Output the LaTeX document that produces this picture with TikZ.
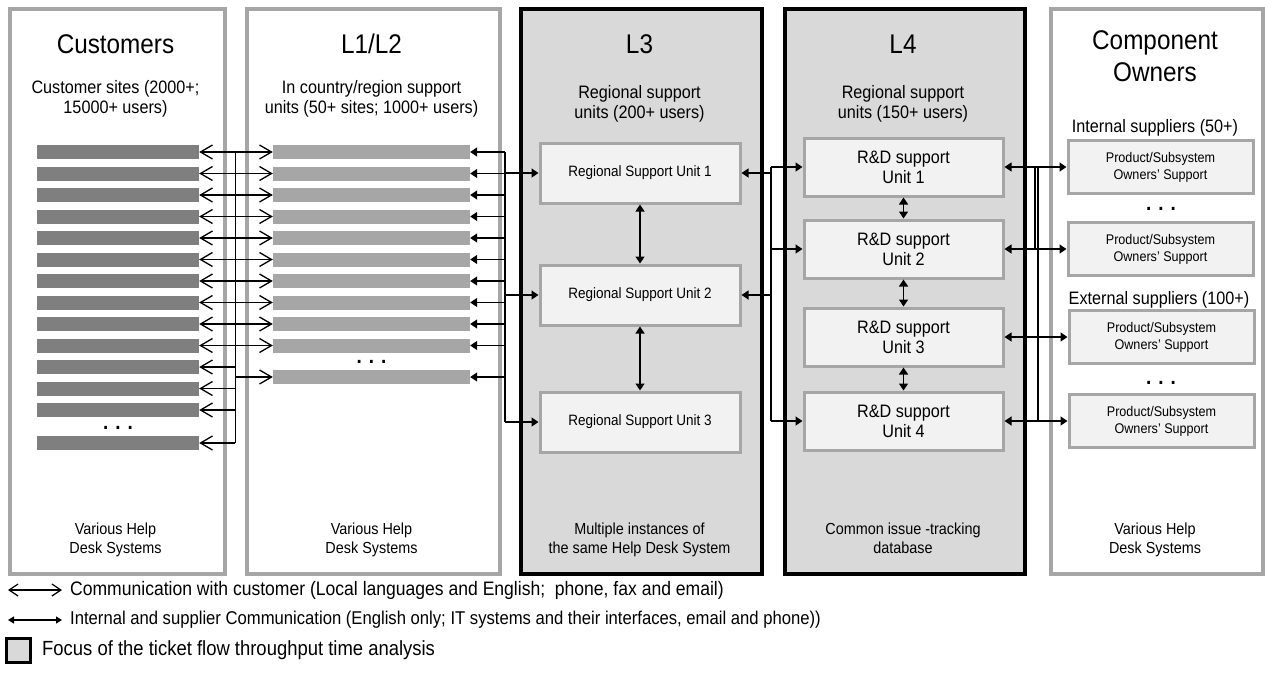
\documentclass[tikz,border=0pt]{standalone}
\usepackage{fontspec}
\setmainfont{Liberation Sans}[FakeStretch=0.9]
\usetikzlibrary{arrows.meta}
\definecolor{panelgray}{HTML}{A6A6A6}
\definecolor{focusfill}{HTML}{D9D9D9}
\definecolor{boxfill}{HTML}{F2F2F2}
\definecolor{custbarcol}{HTML}{7F7F7F}
\definecolor{lbarcol}{HTML}{A6A6A6}
\newcommand{\fs}[2]{\fontsize{#1}{#2}\selectfont}
\tikzset{
  panel/.style={draw=panelgray, line width=3.5pt, fill=white, minimum height=565, anchor=north west, inner sep=0},
  focus/.style={draw=black, line width=3.5pt, fill=focusfill, minimum height=565, anchor=north west, inner sep=0},
  title/.style={font=\fs{27}{32}, align=center},
  sub/.style={font=\fs{18}{20}, align=center},
  foot/.style={font=\fs{16}{19}, align=center},
  custbar/.style={fill=custbarcol, minimum width=162, minimum height=14, inner sep=0},
  lbar/.style={fill=lbarcol, minimum width=197, minimum height=14, inner sep=0},
  unitbox/.style={draw=panelgray, line width=3pt, fill=boxfill, inner sep=0, align=center},
  rsu/.style={unitbox, minimum width=200, minimum height=60, font=\fs{15}{18}},
  rdu/.style={unitbox, minimum width=199, minimum height=58, font=\fs{18}{20}},
  own/.style={unitbox, minimum width=185, minimum height=53, font=\fs{14}{17}},
  dots/.style={font=\fs{21}{21}\bfseries},
  bus/.style={draw=black, line width=1.2pt},
  custarrow/.style={-{Straight Barb[length=12pt,width=14pt]}, line width=1.3pt},
  intarrow/.style={-{Triangle[length=7pt,width=9pt]}, line width=1.3pt},
  intboth/.style={{Triangle[length=7pt,width=9pt]}-{Triangle[length=7pt,width=9pt]}, line width=1.3pt},
  legtext/.style={anchor=west, inner sep=0},
}
\begin{document}
\begin{tikzpicture}[x=1pt,y=-1pt]
\useasboundingbox (0,0) rectangle (1265,691);

% columns
\node[panel, minimum width=215] (pcust) at (8,7) {};
\node[panel, minimum width=253] (pl12) at (245,7) {};
\node[focus, minimum width=241] (pl3) at (519,7) {};
\node[focus, minimum width=240] (pl4) at (783,7) {};
\node[panel, minimum width=212] (pown) at (1049,7) {};

% column headings
\node[title] (tcust) at (115.5,44) {Customers};
\node[title] (tl12) at (371.5,44) {L1/L2};
\node[title] (tl3) at (639.5,44) {L3};
\node[title] (tl4) at (903,44) {L4};
\node[title] (town) at (1155,56) {Component\\Owners};

\node[sub] (scust) at (115.5,99) {Customer sites (2000+;\\15000+ users)};
\node[sub] (sl12) at (371.5,99) {In country/region support\\units (50+ sites; 1000+ users)};
\node[sub] (sl3) at (639.5,104) {Regional support\\units (200+ users)};
\node[sub] (sl4) at (903,104) {Regional support\\units (150+ users)};
\node[sub] (sint) at (1155,128) {Internal suppliers (50+)};
\node[sub] (sext) at (1159,300) {External suppliers (100+)};

% column footers
\node[foot] (fcust) at (115.5,540) {Various Help\\Desk Systems};
\node[foot] (fl12) at (371.5,540) {Various Help\\Desk Systems};
\node[foot] (fl3) at (639.5,540) {Multiple instances of\\the same Help Desk System};
\node[foot] (fl4) at (903,538) {Common issue -tracking\\database};
\node[foot] (fown) at (1155,540) {Various Help\\Desk Systems};

% bus lines
\coordinate (cbus) at (235,0);
\coordinate (lbus) at (505,0);
\coordinate (rbus) at (771,0);
\coordinate (obusa) at (1035,0);
\coordinate (obusb) at (1038,0);

% customer sites
\foreach \i in {0,...,12} {
  \pgfmathsetmacro\yy{152+21.5*\i}
  \node[custbar] (cb\i) at (118,\yy) {};
}
\node[custbar] (cb13) at (118,443) {};
\node[dots] (cdots) at (118,428) {. . .};

% L1/L2 support units
\foreach \i in {0,...,9} {
  \pgfmathsetmacro\yy{152+21.5*\i}
  \node[lbar] (lb\i) at (371.5,\yy) {};
}
\node[lbar] (lb10) at (371.5,377) {};
\node[dots] (ldots) at (371.5,362) {. . .};

% L3 regional units
\node[rsu] (rsu1) at (640,173) {Regional Support Unit 1};
\node[rsu] (rsu2) at (640,295) {Regional Support Unit 2};
\node[rsu] (rsu3) at (640,422) {Regional Support Unit 3};

% L4 R&D units
\node[rdu] (rd1) at (903.5,167) {R\&D support\\Unit 1};
\node[rdu] (rd2) at (903.5,249) {R\&D support\\Unit 2};
\node[rdu] (rd3) at (903.5,337) {R\&D support\\Unit 3};
\node[rdu] (rd4) at (903.5,421) {R\&D support\\Unit 4};

% component owners
\node[own] (ow1) at (1160.5,167) {Product/Subsystem\\Owners' Support};
\node[own] (ow2) at (1160.5,249) {Product/Subsystem\\Owners' Support};
\node[own] (ow3) at (1161.5,337) {Product/Subsystem\\Owners' Support};
\node[own] (ow4) at (1161.5,421) {Product/Subsystem\\Owners' Support};
\node[dots] (odots1) at (1161,209) {. . .};
\node[dots] (odots2) at (1161,383) {. . .};

% customer <-> L1/L2
\draw[bus, line width=1pt] (cbus|-cb0) -- (cbus|-cb13);
\foreach \i in {0,...,13} \draw[custarrow] (cbus|-cb\i) -- (cb\i.east);
\foreach \i in {0,...,10} \draw[custarrow] (cbus|-lb\i) -- (lb\i.west);

% L1/L2 <-> L3
\draw[bus] (lbus|-lb0) -- (lbus|-rsu3);
\foreach \i in {0,...,10} \draw[intarrow] (lbus|-lb\i) -- (lb\i.east);
\foreach \i in {1,2,3} \draw[intarrow] (lbus|-rsu\i) -- (rsu\i.west);
\draw[intboth] (rsu1.south) -- (rsu2.north);
\draw[intboth] (rsu2.south) -- (rsu3.north);

% L3 <-> L4
\draw[bus] (rbus|-rd1) -- (rbus|-rd4);
\foreach \i in {1,2} \draw[intarrow] (rbus|-rsu\i) -- (rsu\i.east);
\foreach \i in {1,2,4} \draw[intarrow] (rbus|-rd\i) -- (rd\i.west);
\draw[intboth] (rd1.south) -- (rd2.north);
\draw[intboth] (rd2.south) -- (rd3.north);
\draw[intboth] (rd3.south) -- (rd4.north);

% L4 <-> component owners
\draw[bus] (obusa|-rd1) -- (obusa|-rd2);
\draw[bus] (obusb|-rd1) -- (obusb|-rd4);
\foreach \i in {1,...,4} \draw[intboth] (rd\i.east) -- (ow\i.west);

% legend
\coordinate (lg1a) at (8,590);
\coordinate (lg1b) at (62,590);
\coordinate (lg2a) at (8,620);
\coordinate (lg2b) at (62,620);
\draw[{Straight Barb[length=9pt,width=12pt]}-{Straight Barb[length=9pt,width=12pt]}, line width=1.2pt] (lg1a) -- (lg1b);
\draw[{Triangle[length=6pt,width=7pt]}-{Triangle[length=6pt,width=7pt]}, line width=1.3pt] (lg2a) -- (lg2b);
\node[legtext, font=\fs{19.5}{20}] (leg1) at (70,590) {Communication with customer (Local languages and English;\ \ phone, fax and email)};
\node[legtext, font=\fs{18.5}{20}] (leg2) at (70,620) {Internal and supplier Communication (English only; IT systems and their interfaces, email and phone))};
\node[draw=black, line width=3pt, fill=focusfill, minimum width=24, minimum height=24, inner sep=0] (legbox) at (18.5,650.5) {};
\node[legtext, font=\fs{20.5}{21}] (leg3) at (42,650) {Focus of the ticket flow throughput time analysis};
\end{tikzpicture}
\end{document}
